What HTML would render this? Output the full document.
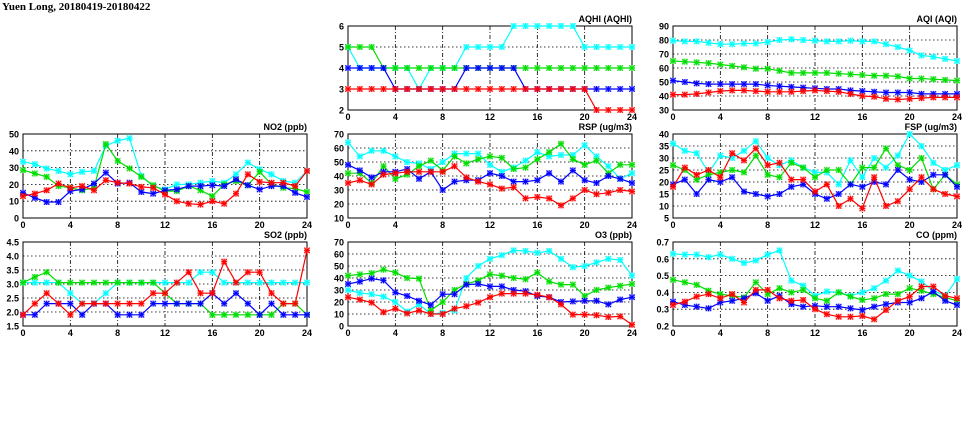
<!DOCTYPE html>
<html><head><meta charset="utf-8">
<style>
html,body{margin:0;padding:0;background:#fff;}
svg{display:block;}
text{font-family:"Liberation Sans",sans-serif;font-weight:bold;}
text.ttl{font-family:"Liberation Serif",serif;}
</style></head>
<body>
<svg id="chart" width="975" height="447" viewBox="0 0 975 447">
<text class="ttl" x="2" y="10" font-size="11">Yuen Long, 20180419-20180422</text>
</svg>
<script>
const hours = [0,1,2,3,4,5,6,7,8,9,10,11,12,13,14,15,16,17,18,19,20,21,22,23,24];
const xTicks = [0,4,8,12,16,20,24];
const seriesColors = ["#00ffff","#00dd00","#0000ff","#ff0000"];
const seriesNames = ["cyan","green","blue","red"];

const no2Cyan = [33.5,32,29.5,28,26,27.5,28,43,46,47.5,25,19,17,20,20,21,22,21,26,33,29,26,22,21,28];
const no2Green = [28.5,26.5,24.5,19,18,16.5,18,44,34,29.5,24.5,19.5,16,16,19,16.5,13,20,22,19.5,27.5,20,18,17.5,15.5];
const no2Blue = [15,12,9.5,9.5,16,17,20.5,27,20.5,21,15.5,14.5,16.5,17,19,19,19.5,19,23,19.5,17,19,19,15,12.5];
const no2Red = [13,14.5,16.5,20.5,18,19,16.5,22.5,21,20.5,18.5,18,14,10,8.5,8,10,8.5,14.5,26,21.5,21,21,19,28];
const no2Ticks = [0,10,20,30,40,50];

const so2Cyan = [3.05,3.05,3.05,3.05,2.67,2.3,2.3,2.67,3.05,3.05,3.05,3.05,3.05,3.05,3.05,3.42,3.42,3.05,3.05,3.05,3.05,3.05,3.05,3.05,3.05];
const so2Green = [3.05,3.25,3.42,3.05,3.05,3.05,3.05,3.05,3.05,3.05,3.05,3.05,2.67,2.3,2.3,2.3,1.9,1.9,1.9,1.9,1.9,1.9,2.3,2.3,1.9];
const so2Blue = [1.9,1.9,2.3,2.3,2.3,1.9,2.3,2.3,1.9,1.9,1.9,2.3,2.3,2.3,2.3,2.3,2.67,2.3,2.67,2.3,1.9,2.3,1.9,1.9,1.9];
const so2Red = [1.9,2.3,2.67,2.3,1.9,2.3,2.3,2.3,2.3,2.3,2.3,2.67,2.67,3.05,3.42,2.67,2.67,3.8,3.05,3.42,3.42,2.67,2.3,2.3,4.2];
const so2Ticks = ["1.5","2.0","2.5","3.0","3.5","4.0","4.5"];

const aqhiCyan = [5,4,4,4,4,4,3,4,4,4,5,5,5,5,6,6,6,6,6,6,5,5,5,5,5];
const aqhiGreen = [5,5,5,4,4,4,4,4,4,4,4,4,4,4,4,4,4,4,4,4,4,4,4,4,4];
const aqhiBlue = [4,4,4,4,3,3,3,3,3,3,4,4,4,4,4,3,3,3,3,3,3,3,3,3,3];
const aqhiRed = [3,3,3,3,3,3,3,3,3,3,3,3,3,3,3,3,3,3,3,3,3,2,2,2,2];
const aqhiTicks = [2,3,4,5,6];

const aqiCyan = [79.5,79,79,78,77,77,77.5,77.5,78.5,80,80.5,80,79.5,79,79,79.5,79,79,77,75,72.5,69,68,66.5,65];
const aqiGreen = [65,64.5,64,63.5,62.5,61.5,60.5,59.5,59.5,58,56.5,56.5,56.5,56.5,56,55.5,55,54.5,54.5,54,52.5,52.5,52,51.5,51];
const aqiBlue = [51,50,49,48.5,48.5,48.5,48.5,48.5,47.5,47,46.5,46,45.5,45,45,44,43.5,43,42.5,42.5,42.5,41.5,41.5,41.5,41.5];
const aqiRed = [41,41,41.5,42.5,43.5,44,44,43.5,43,43,43,43.5,44,43.5,43,41.5,40,39.5,38,37.5,38,38.5,39,39,39];
const aqiTicks = [30,40,50,60,70,80,90];

const rspCyan = [64,54,58,58,54,50,49,45,50,56,56,56,48,43,46,51,57,54,55,55,62,54,47,38,42];
const rspGreen = [42,42,35,47,38,41,47,51,44,54,49,52,54,53,45,46,52,57,63,52,48,51,42,48,48];
const rspBlue = [48,44,39,43,43,45,38,43,30,36,37,37,42,40,36,36,37,42,36,44,37,35,40,38,35];
const rspRed = [35,37,34,41,42,43,43,43,43,47,39,36,34,31,32,24,25,24,19,24,30,27,28,30,29];
const rspTicks = [10,20,30,40,50,60,70];

const fspCyan = [36,33,32,24,31,30,33,37,30,27,29,26,24,24,19,29,22,30,26,31,40,35,28,25,27];
const fspGreen = [27,25,21,23,24,25,24,31,23,22,28,26,22,25,25,19,26,26,34,27,25,30,17,23,19];
const fspBlue = [19,21,15,21,20,22,16,15,14,15,18,19,15,13,15,19,18,20,19,25,21,20,23,23,18];
const fspRed = [18,26,23,25,22,32,29,34,27,28,21,21,16,19,10,13,9,22,10,12,17,22,17,15,14];
const fspTicks = [5,10,15,20,25,30,35,40];

const o3Cyan = [30,27.5,26.5,24.5,20,12,18,10,11,13,40,50,56,59,63,62.5,61,62.5,56,49,50,53,56,55,42];
const o3Green = [42,43,44,47,44.5,40,39.5,13,20,30,35,38,43,42,40,39,44.5,37,34.5,34.5,25,30,32,33.5,35];
const o3Blue = [35,37,39.5,38,28,25,21,17.5,26.5,26.5,34.5,35,33,33,30,29,25,24,20,20.5,21,21,18,22,24];
const o3Red = [24,22,19.5,11.5,14.5,10.5,13,10,10,14.5,16.5,19.5,24,27,27,27,26,24,18,9.5,9.5,9,7.5,8,1];
const o3Ticks = [0,10,20,30,40,50,60,70];

const coCyan = [0.63,0.625,0.625,0.61,0.625,0.60,0.575,0.59,0.625,0.65,0.47,0.44,0.38,0.405,0.40,0.38,0.40,0.425,0.47,0.53,0.50,0.465,0.41,0.38,0.48];
const coGreen = [0.475,0.46,0.445,0.41,0.39,0.38,0.37,0.46,0.39,0.425,0.40,0.415,0.365,0.35,0.40,0.375,0.355,0.365,0.39,0.39,0.425,0.41,0.39,0.37,0.35];
const coBlue = [0.345,0.325,0.315,0.305,0.34,0.35,0.365,0.395,0.35,0.38,0.33,0.315,0.32,0.315,0.315,0.305,0.295,0.315,0.33,0.34,0.34,0.365,0.405,0.35,0.325];
const coRed = [0.325,0.345,0.375,0.39,0.365,0.39,0.34,0.415,0.415,0.365,0.35,0.355,0.30,0.27,0.255,0.255,0.26,0.24,0.295,0.35,0.375,0.435,0.435,0.38,0.365];
const coTicks = ["0.2","0.3","0.4","0.5","0.6","0.7"];

const NS = "http://www.w3.org/2000/svg";
const svg = document.getElementById("chart");
function mk(tag, attrs, parent){
  const e = document.createElementNS(NS, tag);
  for (const k in attrs) e.setAttribute(k, attrs[k]);
  (parent||svg).appendChild(e);
  return e;
}
const W = 284, H = 84;
const panels = [
  {key:"aqhi", title:"AQHI (AQHI)", left:348, top:26, ticks:aqhiTicks, series:[aqhiCyan,aqhiGreen,aqhiBlue,aqhiRed]},
  {key:"aqi", title:"AQI (AQI)", left:673, top:26, ticks:aqiTicks, series:[aqiCyan,aqiGreen,aqiBlue,aqiRed]},
  {key:"no2", title:"NO2 (ppb)", left:23, top:134, ticks:no2Ticks, series:[no2Cyan,no2Green,no2Blue,no2Red]},
  {key:"rsp", title:"RSP (ug/m3)", left:348, top:134, ticks:rspTicks, series:[rspCyan,rspGreen,rspBlue,rspRed]},
  {key:"fsp", title:"FSP (ug/m3)", left:673, top:134, ticks:fspTicks, series:[fspCyan,fspGreen,fspBlue,fspRed]},
  {key:"so2", title:"SO2 (ppb)", left:23, top:242, ticks:so2Ticks, series:[so2Cyan,so2Green,so2Blue,so2Red]},
  {key:"o3", title:"O3 (ppb)", left:348, top:242, ticks:o3Ticks, series:[o3Cyan,o3Green,o3Blue,o3Red]},
  {key:"co", title:"CO (ppm)", left:673, top:242, ticks:coTicks, series:[coCyan,coGreen,coBlue,coRed]},
];
panels.forEach(p => {
  const g = mk("g", {});
  
  
  const tv = p.ticks.map(Number);
  const ymin = tv[0], ymax = tv[tv.length-1];
  const xs = h => p.left + h / 24 * W;
  const ys = v => p.top + H - (v - ymin) / (ymax - ymin) * H;
  tv.forEach((v, i) => {
    if (i > 0 && i < tv.length-1) {
      const gl = mk("line", {x1:p.left, x2:p.left+W, y1:ys(v), y2:ys(v), stroke:"#000", "stroke-width":0.8, "stroke-dasharray":"1.5,2.5"}, g);
      
      
    }
    const t = mk("text", {x:p.left-4, y:ys(v)+3.5, "font-size":9, "text-anchor":"end"}, g);
    t.textContent = p.ticks[i];
    
    
  });
  xTicks.forEach((h, i) => {
    if (i > 0 && i < xTicks.length-1) {
      const gl = mk("line", {x1:xs(h), x2:xs(h), y1:p.top, y2:p.top+H, stroke:"#000", "stroke-width":0.8, "stroke-dasharray":"4,2,1,2"}, g);
      
      
    }
    const t = mk("text", {x:xs(h), y:p.top+H+10, "font-size":9, "text-anchor":"middle"}, g);
    t.textContent = h;
    
    
  });
  const fr = mk("rect", {x:p.left, y:p.top, width:W, height:H, fill:"none", stroke:"#000", "stroke-width":1}, g);
  
  
  const tt = mk("text", {x:p.left+W, y:p.top-4, "font-size":9, "text-anchor":"end"}, g);
  tt.textContent = p.title;
  
  
  p.series.forEach((vals, si) => {
    const c = seriesColors[si];
    const sg = mk("g", {}, g);
    
    
    const pts = vals.map((v, i) => xs(hours[i]).toFixed(1) + "," + ys(v).toFixed(1)).join(" ");
    const pl = mk("polyline", {points:pts, fill:"none", stroke:c, "stroke-width":1.2}, sg);
    
    
    vals.forEach((v, i) => {
      const x = xs(hours[i]), y = ys(v);
      const m = mk("g", {}, sg);
      
      
      mk("rect", {x:x-3, y:y-3, width:6, height:6, fill:c, "fill-opacity":0.3}, m);
      mk("path", {d:`M${x-2.7},${y-2.7}L${x+2.7},${y+2.7}M${x-2.7},${y+2.7}L${x+2.7},${y-2.7}M${x-3},${y}L${x+3},${y}M${x},${y-3}L${x},${y+3}`, stroke:c, "stroke-width":1}, m);
    });
  });
});
</script>
</body></html>
